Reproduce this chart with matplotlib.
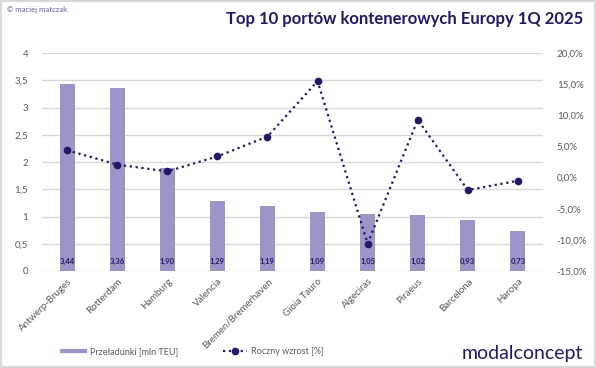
import matplotlib.pyplot as plt
import numpy as np
from matplotlib.lines import Line2D
from matplotlib.patches import Rectangle
from matplotlib.ticker import FuncFormatter

plt.rcParams['font.family'] = ['Lato', 'DejaVu Sans']

ports = ['Antwerp-Bruges', 'Rotterdam', 'Hamburg', 'Valencia', 'Bremen/Bremerhaven',
         'Gioia Tauro', 'Algeciras', 'Piraeus', 'Barcelona', 'Haropa']
teu = [3.44, 3.36, 1.90, 1.29, 1.19, 1.09, 1.05, 1.02, 0.93, 0.73]
growth = [4.4, 2.1, 1.0, 3.4, 6.6, 15.5, -10.6, 9.3, -2.0, -0.5]

bar_color = '#9D94C8'
navy = '#1E1B64'
gray = '#595959'

fig = plt.figure(figsize=(5.96, 3.68), dpi=100)
ax = fig.add_axes([0.0705, 0.2636, 0.8405, 0.592])
ax2 = ax.twinx()

x = np.arange(len(ports))
ax.bar(x, teu, width=0.3, color=bar_color, zorder=2)
for xi, v in zip(x, teu):
    ax.text(xi, 0.18, f'{v:.2f}'.replace('.', ','), ha='center', va='center',
            fontsize=5.5, color=navy, fontweight='bold', zorder=3)

ax2.plot(x, growth, linestyle=':', color=navy, linewidth=1.6,
         marker='o', markersize=4.5, zorder=4)

ax.set_xlim(-0.5, len(ports) - 0.5)
ax.set_ylim(0, 4)
ax.set_yticks(np.arange(0, 4.01, 0.5))
ax.yaxis.set_major_formatter(FuncFormatter(lambda v, p: f'{v:g}'.replace('.', ',')))
ax2.set_ylim(-15, 20)
ax2.set_yticks(np.arange(-15, 20.1, 5))
ax2.yaxis.set_major_formatter(FuncFormatter(lambda v, p: f'{v:.1f}%'.replace('.', ',')))

ax.grid(axis='y', color='#D9D9D9', linewidth=1, zorder=0)
ax.set_axisbelow(True)
for a in (ax, ax2):
    for s in a.spines.values():
        s.set_visible(False)
    a.tick_params(axis='both', length=0, labelsize=7, labelcolor=gray)
ax.tick_params(axis='y', pad=10)
ax2.tick_params(axis='y', pad=10)

ax.set_xticks(x)
ax.set_xticklabels(ports, rotation=45, ha='right', rotation_mode='anchor')
ax.tick_params(axis='x', pad=4)

fig.text(0.978, 0.948, 'Top 10 portów kontenerowych Europy 1Q 2025', ha='right', va='center',
         fontsize=12, fontweight='bold', color=navy)
fig.text(0.012, 0.975, '© maciej matczak', ha='left', va='center',
         fontsize=5.5, fontweight='bold', color='#8C86B8')
fig.text(0.978, 0.04, 'modalconcept', ha='right', va='center',
         fontsize=14, color=navy)

handles = [Line2D([], [], color=bar_color, linewidth=3),
           Line2D([], [], color=navy, linestyle=':', linewidth=1.6, marker='o', markersize=4.5)]
fig.legend(handles, ['Przeładunki [mln TEU]', 'Roczny wzrost [%]'], loc='center left',
           bbox_to_anchor=(0.09, 0.045), ncol=2, frameon=False, fontsize=6.5,
           handlelength=2.6, handletextpad=0.5, columnspacing=5, labelcolor=gray)

fig.patches.append(Rectangle((0.002, 0.003), 0.996, 0.994, transform=fig.transFigure,
                             fill=False, edgecolor='#D9D9D9', linewidth=1.5))

fig.savefig('out.png', dpi=100)
